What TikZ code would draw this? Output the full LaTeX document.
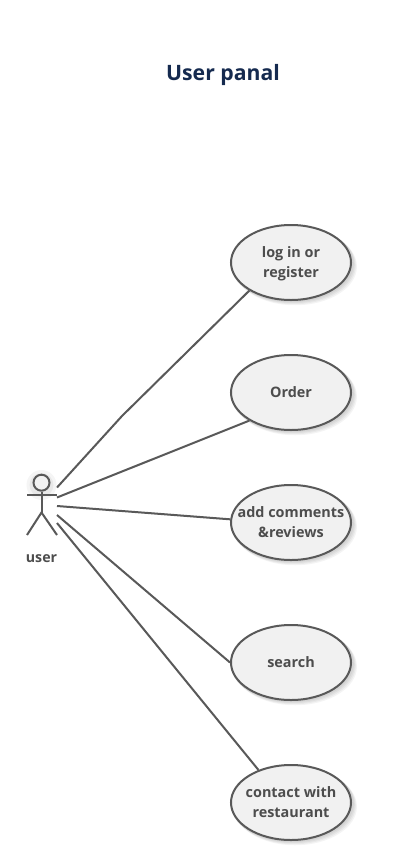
\documentclass[tikz,border=0pt]{standalone}
\usepackage{fontspec}
\setmainfont{Open Sans}
\usetikzlibrary{shapes.geometric,shadows,calc}
\definecolor{ink}{HTML}{595959}
\definecolor{txt}{HTML}{4D4D4D}
\definecolor{ttl}{HTML}{152A4F}
\definecolor{body}{HTML}{F1F1F1}
\newcommand{\firstline}{\rule{0pt}{16.6pt}}
\tikzset{
  x=1pt,y=-1pt,
  softshadow/.style={general shadow={shadow xshift=#1,shadow yshift=-#1,shadow scale=1.03,fill=black,opacity=.045}},
  usecase/.style={ellipse,draw=ink,fill=body,line width=2pt,minimum width=120pt,minimum height=75pt,inner sep=-18pt,
    align=center,text=txt,font=\fontsize{14.4}{20}\selectfont\bfseries,
    softshadow=1pt,softshadow=2pt,softshadow=3pt,softshadow=4pt},
  link/.style={draw=ink,line width=2pt},
  actorline/.style={draw=ink,line width=2pt},
  caption/.style={text=txt,font=\fontsize{14.2}{18}\selectfont\bfseries,inner sep=0pt},
  heading/.style={text=ttl,font=\fontsize{21.2}{26}\selectfont\bfseries,inner sep=0pt}
}
\begin{document}
\begin{tikzpicture}
\useasboundingbox (0,0) rectangle (420,860);
\fill[white] (0,0) rectangle (420,860);
\node[heading] (title) at (223,75) {\strut User panal};
\node[usecase] (login) at (291,262.5) {\firstline\strut log in or\\\strut register};
\node[usecase] (order) at (291,392.5) {\firstline\strut Order};
\node[usecase] (comments) at (291,522.5) {\firstline\strut add comments\\\strut\&reviews};
\node[usecase] (search) at (291,662.5) {\firstline\strut search};
\node[usecase] (contact) at (291,802.5) {\firstline\strut contact with\\\strut restaurant};
% actor
\fill[black,opacity=.05] (41.5,485) circle (12);
\fill[black,opacity=.04] (41.5,485) circle (15);
\node[circle,draw=ink,fill=body,line width=2pt,minimum size=16pt,inner sep=0pt] (head) at (41.5,482.7) {};
\coordinate (armL) at (27,494.5);
\coordinate (armR) at (57,494.5);
\coordinate (hip) at (41.5,512.5);
\coordinate (footL) at (27,535);
\coordinate (footR) at (57,535);
\draw[actorline] (head.south) -- (hip);
\draw[actorline] (armL) -- (armR);
\draw[actorline] (footL) -- (hip) -- (footR);
\node[caption] (actorlabel) at (41.5,559) {\strut user};
% connector start points
\coordinate (s1) at (57,487.5);
\coordinate (s2) at (57,497.5);
\coordinate (s3) at (57,506);
\coordinate (s4) at (57,515);
\coordinate (s5) at (57,523);
\coordinate (bend) at (122,416);
\draw[link] (s1) -- (bend) -- (login.214);
\draw[link] (s2) -- (order.214);
\draw[link] (s3) -- (comments.177);
\draw[link] (s4) -- (search.180);
\draw[link] (s5) -- (contact.135);
\end{tikzpicture}
\end{document}
